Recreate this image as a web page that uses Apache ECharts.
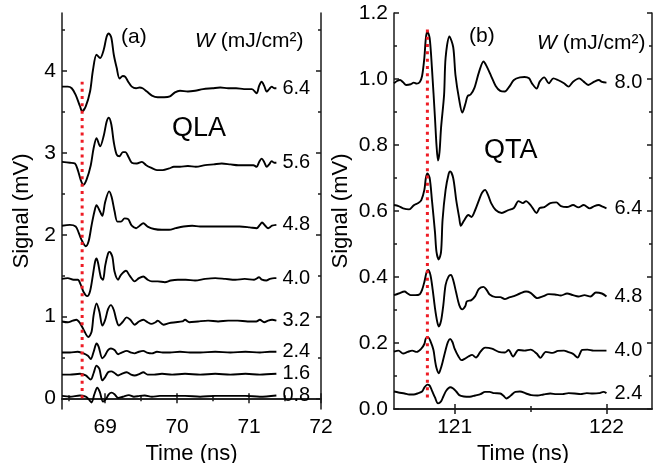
<!DOCTYPE html>
<html><head><meta charset="utf-8">
<script src="https://cdn.jsdelivr.net/npm/echarts@6/dist/echarts.min.js"></script>
<style>html,body{margin:0;padding:0;background:#fff}#c{width:672px;height:463px}</style>
</head><body><div id="c"></div>
<script>
// ---------- Panel (a): QLA, Time 68.4-72 ns ----------
const qla64 = [[68.40,3.81],[68.48,3.81],[68.535,3.79],[68.59,3.71],[68.65,3.57],[68.68,3.51],[68.73,3.57],[68.79,3.75],[68.83,4.01],[68.88,4.20],[68.93,4.16],[68.98,4.26],[69.02,4.42],[69.05,4.46],[69.085,4.41],[69.12,4.20],[69.16,4.04],[69.20,3.91],[69.245,3.94],[69.28,3.93],[69.32,3.87],[69.37,3.81],[69.43,3.79],[69.48,3.80],[69.52,3.79],[69.58,3.75],[69.65,3.70],[69.73,3.68],[69.82,3.68],[69.90,3.69],[69.97,3.74],[70.04,3.76],[70.15,3.75],[70.25,3.76],[70.36,3.78],[70.49,3.79],[70.60,3.80],[70.71,3.79],[70.82,3.79],[70.93,3.78],[71.04,3.78],[71.105,3.73],[71.14,3.82],[71.175,3.87],[71.21,3.82],[71.245,3.75],[71.28,3.78],[71.315,3.81],[71.35,3.79],[71.38,3.79]];
const qla56 = [[68.40,2.89],[68.51,2.88],[68.58,2.87],[68.62,2.79],[68.66,2.67],[68.695,2.61],[68.74,2.67],[68.80,2.85],[68.84,3.06],[68.88,3.18],[68.93,3.08],[68.98,3.21],[69.02,3.38],[69.05,3.43],[69.085,3.35],[69.12,3.13],[69.16,2.98],[69.20,2.96],[69.245,3.01],[69.28,3.01],[69.33,2.94],[69.37,2.88],[69.44,2.87],[69.51,2.89],[69.57,2.85],[69.635,2.82],[69.72,2.79],[69.80,2.79],[69.89,2.81],[69.955,2.83],[70.04,2.83],[70.15,2.84],[70.26,2.83],[70.39,2.85],[70.51,2.86],[70.62,2.87],[70.74,2.86],[70.85,2.85],[70.96,2.85],[71.06,2.85],[71.105,2.83],[71.14,2.89],[71.175,2.93],[71.21,2.89],[71.245,2.83],[71.28,2.86],[71.315,2.90],[71.35,2.88],[71.38,2.88]];
const qla48 = [[68.40,2.11],[68.51,2.12],[68.59,2.10],[68.63,2.03],[68.67,1.94],[68.73,1.86],[68.77,1.92],[68.81,2.11],[68.85,2.28],[68.88,2.36],[68.92,2.30],[68.96,2.23],[69.00,2.40],[69.055,2.53],[69.09,2.46],[69.13,2.29],[69.17,2.16],[69.22,2.16],[69.27,2.20],[69.32,2.19],[69.37,2.11],[69.43,2.08],[69.48,2.11],[69.53,2.14],[69.59,2.10],[69.68,2.07],[69.79,2.06],[69.89,2.06],[69.98,2.08],[70.09,2.10],[70.21,2.11],[70.32,2.10],[70.46,2.10],[70.60,2.10],[70.74,2.10],[70.87,2.10],[71.01,2.09],[71.105,2.08],[71.15,2.12],[71.18,2.15],[71.225,2.11],[71.265,2.08],[71.32,2.11],[71.38,2.12]];
const qla40 = [[68.40,1.46],[68.48,1.47],[68.56,1.45],[68.62,1.45],[68.66,1.39],[68.70,1.30],[68.75,1.25],[68.79,1.31],[68.83,1.51],[68.86,1.67],[68.88,1.71],[68.90,1.66],[68.94,1.48],[68.97,1.45],[69.00,1.62],[69.04,1.77],[69.06,1.79],[69.10,1.73],[69.13,1.55],[69.18,1.45],[69.22,1.51],[69.29,1.56],[69.34,1.50],[69.41,1.43],[69.47,1.47],[69.53,1.49],[69.59,1.45],[69.65,1.43],[69.73,1.43],[69.83,1.42],[69.91,1.44],[70.01,1.45],[70.12,1.45],[70.25,1.44],[70.39,1.46],[70.53,1.47],[70.67,1.46],[70.81,1.45],[70.94,1.46],[71.07,1.45],[71.14,1.48],[71.18,1.45],[71.24,1.44],[71.29,1.46],[71.35,1.47],[71.38,1.47]];
const qla32 = [[68.40,0.94],[68.48,0.93],[68.55,0.95],[68.60,0.96],[68.65,0.92],[68.70,0.84],[68.765,0.75],[68.81,0.81],[68.84,1.02],[68.88,1.16],[68.92,1.06],[68.96,0.89],[69.00,0.96],[69.04,1.09],[69.08,1.14],[69.12,1.08],[69.155,0.96],[69.19,0.89],[69.24,0.93],[69.30,0.99],[69.35,0.96],[69.41,0.90],[69.47,0.94],[69.53,0.96],[69.59,0.93],[69.64,0.91],[69.70,0.93],[69.73,0.95],[69.81,0.90],[69.89,0.92],[69.98,0.93],[70.07,0.94],[70.11,0.96],[70.17,0.93],[70.29,0.94],[70.43,0.95],[70.57,0.94],[70.71,0.95],[70.84,0.95],[70.98,0.94],[71.10,0.94],[71.15,0.96],[71.21,0.93],[71.265,0.95],[71.32,0.96],[71.38,0.95]];
const qla24 = [[68.40,0.56],[68.51,0.56],[68.62,0.57],[68.70,0.55],[68.76,0.52],[68.80,0.48],[68.84,0.57],[68.88,0.67],[68.91,0.63],[68.96,0.49],[68.995,0.52],[69.04,0.59],[69.08,0.61],[69.13,0.59],[69.18,0.54],[69.23,0.56],[69.30,0.58],[69.36,0.56],[69.41,0.55],[69.47,0.57],[69.53,0.58],[69.58,0.56],[69.65,0.55],[69.72,0.57],[69.80,0.56],[69.90,0.56],[70.04,0.57],[70.18,0.56],[70.32,0.56],[70.53,0.57],[70.74,0.56],[70.95,0.57],[71.15,0.56],[71.29,0.57],[71.38,0.57]];
const qla16 = [[68.40,0.29],[68.51,0.29],[68.65,0.30],[68.73,0.28],[68.80,0.23],[68.84,0.31],[68.88,0.40],[68.92,0.36],[68.96,0.22],[69.00,0.26],[69.04,0.32],[69.085,0.33],[69.13,0.31],[69.18,0.28],[69.23,0.30],[69.30,0.32],[69.36,0.29],[69.41,0.28],[69.48,0.30],[69.53,0.32],[69.59,0.29],[69.68,0.29],[69.79,0.30],[69.93,0.29],[70.11,0.30],[70.32,0.29],[70.53,0.30],[70.74,0.29],[70.95,0.30],[71.15,0.29],[71.38,0.30]];
const qla08 = [[68.40,0.03],[68.51,0.02],[68.65,0.035],[68.73,0.02],[68.77,-0.01],[68.81,-0.05],[68.85,0.05],[68.89,0.13],[68.925,0.08],[68.97,-0.04],[69.01,-0.01],[69.05,0.05],[69.09,0.07],[69.13,0.05],[69.18,0.005],[69.245,0.02],[69.33,0.04],[69.40,0.02],[69.48,0.03],[69.55,0.035],[69.65,0.02],[69.76,0.03],[69.90,0.03],[70.11,0.03],[70.32,0.02],[70.53,0.03],[70.74,0.03],[70.95,0.03],[71.15,0.02],[71.38,0.035]];
const qlaTraces = [qla64, qla56, qla48, qla40, qla32, qla24, qla16, qla08];
const qlaW = ['6.4', '5.6', '4.8', '4.0', '3.2', '2.4', '1.6', '0.8'];
const qlaMarker = [[68.68, 0.0], [68.68, 3.87]];
const qlaXMajor = [69, 70, 71, 72];
const qlaXMinor = [68.5, 69.5, 70.5, 71.5];
const qlaYMajor = [0, 1, 2, 3, 4];
const qlaYMinor = [0.5, 1.5, 2.5, 3.5, 4.5];

// ---------- Panel (b): QTA, Time 120.6-122.3 ns ----------
const qta80 = [[120.60,0.987],[120.62,0.994],[120.64,0.997],[120.66,0.990],[120.68,0.982],[120.71,0.984],[120.73,0.989],[120.75,0.986],[120.77,0.991],[120.785,1.009],[120.80,1.064],[120.81,1.124],[120.82,1.144],[120.835,1.124],[120.85,1.033],[120.87,0.882],[120.88,0.800],[120.89,0.753],[120.90,0.779],[120.91,0.852],[120.93,0.952],[120.94,1.064],[120.965,1.129],[120.99,1.097],[121.005,1.012],[121.03,0.936],[121.05,0.898],[121.07,0.924],[121.085,0.948],[121.105,0.953],[121.13,0.973],[121.16,1.021],[121.19,1.053],[121.21,1.039],[121.24,1.009],[121.27,0.979],[121.30,0.964],[121.33,0.962],[121.36,0.977],[121.39,0.997],[121.43,1.005],[121.46,1.006],[121.49,1.002],[121.51,0.986],[121.54,0.971],[121.56,0.992],[121.59,1.005],[121.62,0.987],[121.65,1.002],[121.68,0.997],[121.72,0.987],[121.75,0.977],[121.78,0.992],[121.82,1.002],[121.85,0.992],[121.88,0.982],[121.92,0.992],[121.95,0.997],[121.97,0.991],[122.00,0.989]];
const qta64 = [[120.60,0.618],[120.63,0.615],[120.66,0.608],[120.70,0.605],[120.73,0.617],[120.76,0.624],[120.78,0.633],[120.80,0.664],[120.81,0.700],[120.82,0.714],[120.835,0.700],[120.85,0.633],[120.87,0.536],[120.88,0.476],[120.895,0.453],[120.91,0.476],[120.92,0.573],[120.94,0.664],[120.96,0.712],[120.97,0.720],[120.99,0.700],[121.01,0.633],[121.03,0.579],[121.04,0.555],[121.06,0.570],[121.09,0.588],[121.11,0.582],[121.135,0.603],[121.16,0.633],[121.18,0.655],[121.20,0.664],[121.22,0.648],[121.24,0.624],[121.27,0.603],[121.31,0.594],[121.35,0.602],[121.39,0.609],[121.42,0.630],[121.45,0.624],[121.47,0.630],[121.50,0.618],[121.54,0.594],[121.56,0.609],[121.59,0.612],[121.63,0.624],[121.67,0.626],[121.70,0.615],[121.74,0.612],[121.78,0.618],[121.815,0.611],[121.85,0.618],[121.89,0.608],[121.92,0.615],[121.95,0.618],[121.97,0.614],[122.00,0.608]];
const qta48 = [[120.60,0.345],[120.63,0.350],[120.67,0.356],[120.69,0.350],[120.71,0.345],[120.74,0.345],[120.77,0.348],[120.785,0.361],[120.80,0.385],[120.815,0.415],[120.825,0.421],[120.84,0.406],[120.855,0.361],[120.87,0.306],[120.885,0.264],[120.895,0.250],[120.91,0.267],[120.925,0.315],[120.94,0.376],[120.96,0.402],[120.975,0.406],[120.99,0.391],[121.01,0.352],[121.03,0.315],[121.05,0.302],[121.07,0.312],[121.08,0.326],[121.11,0.330],[121.135,0.342],[121.16,0.364],[121.19,0.370],[121.21,0.361],[121.23,0.347],[121.27,0.339],[121.30,0.339],[121.33,0.333],[121.36,0.338],[121.39,0.342],[121.43,0.350],[121.47,0.356],[121.50,0.352],[121.545,0.336],[121.58,0.341],[121.62,0.348],[121.66,0.347],[121.70,0.344],[121.74,0.350],[121.78,0.345],[121.815,0.341],[121.855,0.345],[121.895,0.341],[121.93,0.353],[121.97,0.350],[122.00,0.341]];
const qta40 = [[120.60,0.174],[120.63,0.177],[120.66,0.168],[120.69,0.173],[120.72,0.177],[120.75,0.173],[120.78,0.183],[120.80,0.197],[120.81,0.214],[120.825,0.217],[120.84,0.206],[120.86,0.179],[120.87,0.148],[120.88,0.124],[120.895,0.108],[120.905,0.118],[120.92,0.142],[120.94,0.179],[120.955,0.203],[120.97,0.212],[120.985,0.203],[121.00,0.182],[121.025,0.159],[121.045,0.148],[121.065,0.152],[121.09,0.159],[121.115,0.164],[121.14,0.156],[121.17,0.174],[121.20,0.186],[121.245,0.183],[121.29,0.173],[121.33,0.171],[121.355,0.179],[121.385,0.159],[121.42,0.179],[121.46,0.177],[121.50,0.180],[121.54,0.168],[121.565,0.155],[121.60,0.173],[121.645,0.170],[121.68,0.176],[121.72,0.177],[121.745,0.173],[121.78,0.167],[121.81,0.156],[121.84,0.179],[121.875,0.180],[121.915,0.177],[121.96,0.177],[122.00,0.177]];
const qta24 = [[120.60,0.053],[120.63,0.050],[120.67,0.047],[120.70,0.044],[120.73,0.044],[120.76,0.048],[120.785,0.053],[120.80,0.065],[120.82,0.074],[120.835,0.071],[120.85,0.056],[120.87,0.035],[120.89,0.017],[120.91,0.023],[120.925,0.038],[120.945,0.056],[120.97,0.066],[120.99,0.062],[121.01,0.053],[121.03,0.042],[121.06,0.038],[121.10,0.037],[121.135,0.041],[121.17,0.045],[121.20,0.052],[121.23,0.052],[121.26,0.048],[121.30,0.047],[121.32,0.041],[121.34,0.032],[121.37,0.041],[121.40,0.052],[121.43,0.053],[121.47,0.047],[121.505,0.042],[121.545,0.041],[121.585,0.044],[121.63,0.047],[121.67,0.045],[121.71,0.045],[121.75,0.048],[121.79,0.047],[121.83,0.045],[121.87,0.048],[121.91,0.047],[121.95,0.048],[121.98,0.052],[122.00,0.048]];
const qtaTraces = [qta80, qta64, qta48, qta40, qta24];
const qtaW = ['8.0', '6.4', '4.8', '4.0', '2.4'];
const qtaMarker = [[120.82, 0.035], [120.82, 1.15]];
const qtaXMajor = [121, 122];
const qtaXMinor = [121.5];
const qtaYMajor = [0, 0.2, 0.4, 0.6, 0.8, 1.0, 1.2];
const qtaYMinor = [0.1, 0.3, 0.5, 0.7, 0.9, 1.1];

// ---------- Chart ----------
const FF = '"Liberation Sans", Arial, Helvetica, sans-serif';
const AX = { color: '#1a1a1a', width: 1.5 };

function axes(g, dim, min, max, major, minor, fmt, name, nameGap) {
  const main = dim === 'x' ? 'bottom' : 'left';
  const mirror = dim === 'x' ? 'top' : 'right';
  const base = { gridIndex: g, type: 'value', min: min, max: max, splitLine: { show: false } };
  return [
    Object.assign({}, base, {
      position: main,
      axisLine: { show: true, lineStyle: AX },
      axisTick: { show: true, inside: true, length: 5, customValues: major, lineStyle: AX },
      axisLabel: { show: true, customValues: major, formatter: fmt, fontSize: 21, color: '#000',
                   fontFamily: FF, margin: dim === 'x' ? 8 : 6 },
      name: name, nameLocation: 'middle', nameGap: nameGap,
      nameTextStyle: { fontSize: 22, color: '#000', fontFamily: FF }
    }),
    Object.assign({}, base, {
      position: main, axisLine: { show: false },
      axisTick: { show: true, inside: true, length: 3, customValues: minor, lineStyle: AX },
      axisLabel: { show: false }
    }),
    Object.assign({}, base, {
      position: mirror, axisLine: { show: true, lineStyle: AX },
      axisTick: { show: true, inside: true, length: 5, customValues: major, lineStyle: AX },
      axisLabel: { show: false }
    }),
    Object.assign({}, base, {
      position: mirror, axisLine: { show: false },
      axisTick: { show: true, inside: true, length: 3, customValues: minor, lineStyle: AX },
      axisLabel: { show: false }
    })
  ];
}

const xAxes = [].concat(
  axes(0, 'x', 68.4, 72, qlaXMajor, qlaXMinor, v => String(v), 'Time (ns)', 26),
  axes(1, 'x', 120.6, 122.3, qtaXMajor, qtaXMinor, v => String(v), 'Time (ns)', 26)
);
const yAxes = [].concat(
  axes(0, 'y', -0.13, 4.71, qlaYMajor, qlaYMinor, v => String(v), 'Signal (mV)', 29),
  axes(1, 'y', 0, 1.2, qtaYMajor, qtaYMinor, v => v.toFixed(1), 'Signal (mV)', 42)
);

function traceSeries(data, label, axisIdx, dist) {
  return {
    type: 'line', data: data, xAxisIndex: axisIdx, yAxisIndex: axisIdx,
    symbol: 'none', smooth: 0.3, lineStyle: { color: '#000', width: 1.9 },
    endLabel: { show: true, formatter: label, fontSize: 20, color: '#000', fontFamily: FF, distance: dist },
    silent: true
  };
}
function markerSeries(data, axisIdx) {
  return {
    type: 'line', data: data, xAxisIndex: axisIdx, yAxisIndex: axisIdx, symbol: 'none', z: 5,
    lineStyle: { color: '#ee1c25', width: 3, type: [3, 4.3], cap: 'butt' }, silent: true
  };
}

const series = [];
qlaTraces.forEach((d, i) => series.push(traceSeries(d, qlaW[i], 0, 6)));
qtaTraces.forEach((d, i) => series.push(traceSeries(d, qtaW[i], 4, 8)));
series.push(markerSeries(qlaMarker, 0));
series.push(markerSeries(qtaMarker, 4));

function txt(x, y, text, size, rich) {
  const style = { text: text, fontSize: size, fontFamily: FF, fill: '#000', align: 'left', verticalAlign: 'middle' };
  if (rich) style.rich = rich;
  return { type: 'text', x: x, y: y, style: style, z: 10 };
}
const richW = { i: { fontStyle: 'italic', fontSize: 21, fontFamily: FF, fill: '#000' } };

const option = {
  animation: false,
  backgroundColor: '#fff',
  grid: [
    { left: 62, top: 13, width: 259, height: 396, containLabel: false, outerBoundsMode: 'none' },
    { left: 394, top: 13, width: 258, height: 396, containLabel: false, outerBoundsMode: 'none' }
  ],
  xAxis: xAxes,
  yAxis: yAxes,
  series: series,
  graphic: [
    txt(121, 37, '(a)', 21),
    txt(195, 41, '{i|W} (mJ/cm²)', 21, richW),
    txt(172, 129, 'QLA', 27),
    txt(469, 36, '(b)', 21),
    txt(537, 43, '{i|W} (mJ/cm²)', 21, richW),
    txt(484, 151, 'QTA', 27)
  ]
};
const chart = echarts.init(document.getElementById('c'));
chart.setOption(option);
</script>
</body></html>
